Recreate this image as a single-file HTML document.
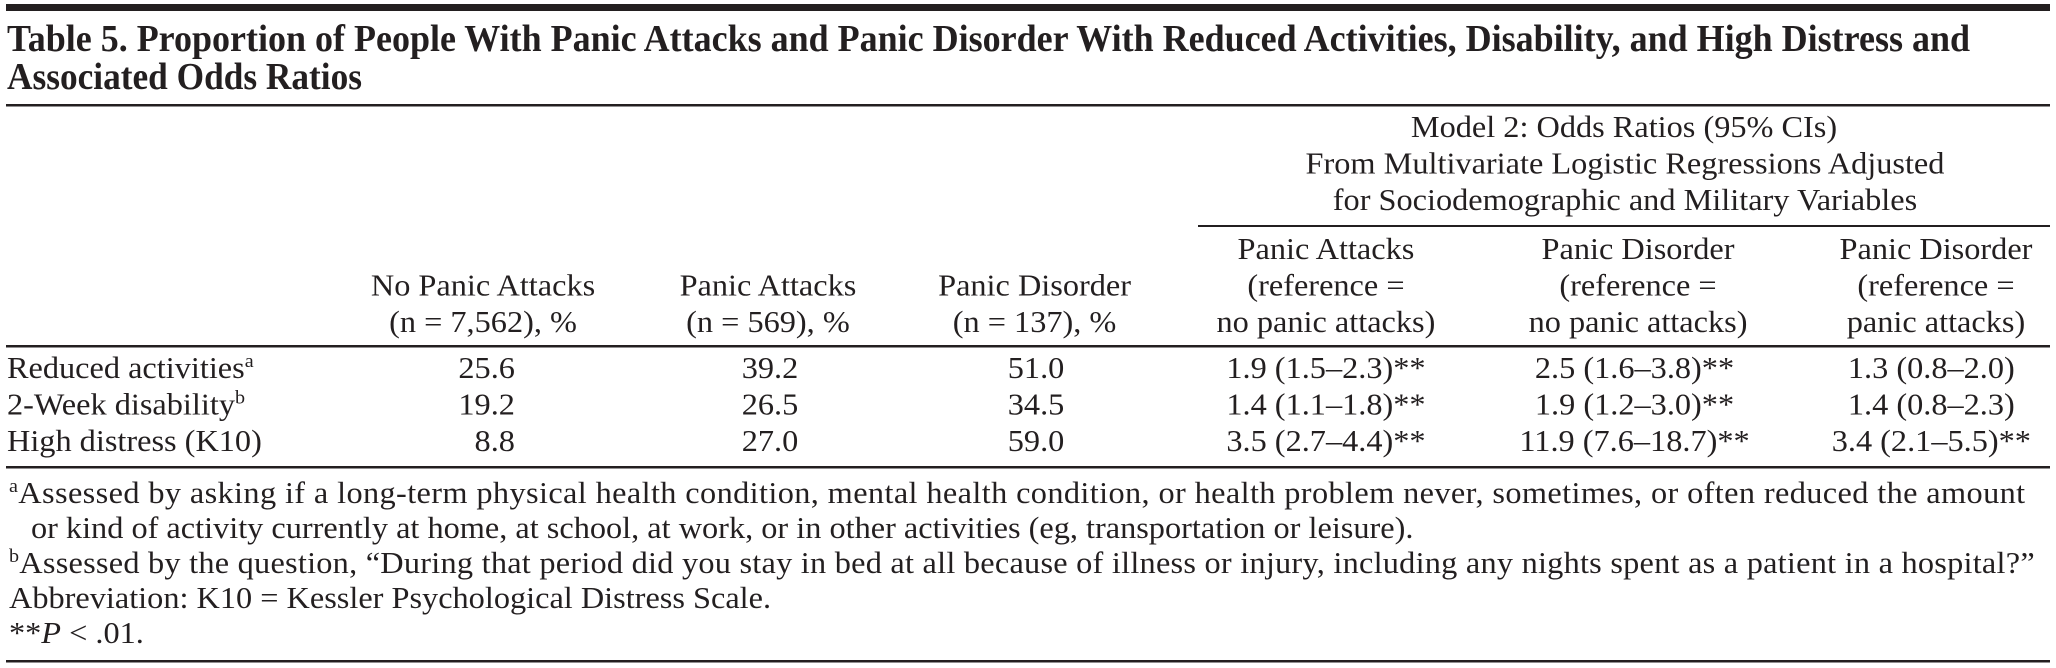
<!DOCTYPE html>
<html>
<head>
<meta charset="utf-8">
<style>
  html, body { margin: 0; padding: 0; background: #ffffff; }
  body { width: 2056px; height: 668px; overflow: hidden; }
  svg { display: block; }
  text { font-family: "Liberation Serif", "DejaVu Serif", serif; fill: #231f20; }
</style>
</head>
<body>
<svg width="2056" height="668" viewBox="0 0 2056 668" xmlns="http://www.w3.org/2000/svg">
  <rect x="0" y="0" width="2056" height="668" fill="#ffffff"/>

  <!-- rules -->
  <rect x="6" y="4" width="2044" height="7" fill="#231f20"/>
  <rect x="6" y="104" width="2044" height="2.5" fill="#231f20"/>
  <rect x="1198" y="225" width="852" height="2" fill="#231f20"/>
  <rect x="6" y="345" width="2044" height="2.5" fill="#231f20"/>
  <rect x="6" y="466" width="2044" height="2.5" fill="#231f20"/>
  <rect x="6" y="660" width="2044" height="2.5" fill="#231f20"/>

  <!-- title -->
  <text x="7" y="51" font-size="38" font-weight="bold" textLength="1963" lengthAdjust="spacingAndGlyphs">Table 5. Proportion of People With Panic Attacks and Panic Disorder With Reduced Activities, Disability, and High Distress and</text>
  <text x="7" y="89" font-size="38" font-weight="bold" textLength="355" lengthAdjust="spacingAndGlyphs">Associated Odds Ratios</text>

  <g transform="scale(1.06,1)" font-size="30.5">
    <!-- spanning header -->
    <text x="1532.1" y="137" text-anchor="middle">Model 2: Odds Ratios (95% CIs)</text>
    <text x="1533" y="173.5" text-anchor="middle">From Multivariate Logistic Regressions Adjusted</text>
    <text x="1533" y="210" text-anchor="middle">for Sociodemographic and Military Variables</text>

    <!-- col 4 header -->
    <text x="1250.9" y="259" text-anchor="middle">Panic Attacks</text>
    <text x="1250.9" y="295.5" text-anchor="middle">(reference =</text>
    <text x="1250.9" y="332" text-anchor="middle">no panic attacks)</text>
    <!-- col 5 header -->
    <text x="1545.3" y="259" text-anchor="middle">Panic Disorder</text>
    <text x="1545.3" y="295.5" text-anchor="middle">(reference =</text>
    <text x="1545.3" y="332" text-anchor="middle">no panic attacks)</text>
    <!-- col 6 header -->
    <text x="1826.4" y="259" text-anchor="middle">Panic Disorder</text>
    <text x="1826.4" y="295.5" text-anchor="middle">(reference =</text>
    <text x="1826.4" y="332" text-anchor="middle">panic attacks)</text>

    <!-- left headers -->
    <text x="455.7" y="295.5" text-anchor="middle">No Panic Attacks</text>
    <text x="455.7" y="332" text-anchor="middle">(n = 7,562), %</text>
    <text x="724.5" y="295.5" text-anchor="middle">Panic Attacks</text>
    <text x="724.5" y="332" text-anchor="middle">(n = 569), %</text>
    <text x="976" y="295.5" text-anchor="middle">Panic Disorder</text>
    <text x="976" y="332" text-anchor="middle">(n = 137), %</text>

    <!-- row labels -->
    <text x="6.6" y="378">Reduced activities<tspan dy="-11" font-size="19">a</tspan></text>
    <text x="6.6" y="414.5">2-Week disability<tspan dy="-11" font-size="19">b</tspan></text>
    <text x="6.6" y="451">High distress (K10)</text>

    <!-- col 1 -->
    <text x="485.8" y="378" text-anchor="end">25.6</text>
    <text x="485.8" y="414.5" text-anchor="end">19.2</text>
    <text x="485.8" y="451" text-anchor="end">8.8</text>
    <!-- col 2 -->
    <text x="726.4" y="378" text-anchor="middle">39.2</text>
    <text x="726.4" y="414.5" text-anchor="middle">26.5</text>
    <text x="726.4" y="451" text-anchor="middle">27.0</text>
    <!-- col 3 -->
    <text x="977.4" y="378" text-anchor="middle">51.0</text>
    <text x="977.4" y="414.5" text-anchor="middle">34.5</text>
    <text x="977.4" y="451" text-anchor="middle">59.0</text>
    <!-- col 4 -->
    <text x="1250.9" y="378" text-anchor="middle">1.9 (1.5–2.3)**</text>
    <text x="1250.9" y="414.5" text-anchor="middle">1.4 (1.1–1.8)**</text>
    <text x="1250.9" y="451" text-anchor="middle">3.5 (2.7–4.4)**</text>
    <!-- col 5 -->
    <text x="1542" y="378" text-anchor="middle">2.5 (1.6–3.8)**</text>
    <text x="1542" y="414.5" text-anchor="middle">1.9 (1.2–3.0)**</text>
    <text x="1542" y="451" text-anchor="middle">11.9 (7.6–18.7)**</text>
    <!-- col 6 -->
    <text x="1822" y="378" text-anchor="middle">1.3 (0.8–2.0)</text>
    <text x="1822" y="414.5" text-anchor="middle">1.4 (0.8–2.3)</text>
    <text x="1822" y="451" text-anchor="middle">3.4 (2.1–5.5)**</text>

    <!-- footnotes -->
    <text x="8.5" y="503" textLength="1902" lengthAdjust="spacing"><tspan font-size="19" dy="-11">a</tspan><tspan dy="11">Assessed by asking if a long-term physical health condition, mental health condition, or health problem never, sometimes, or often reduced the amount</tspan></text>
    <text x="29.2" y="538">or kind of activity currently at home, at school, at work, or in other activities (eg, transportation or leisure).</text>
    <text x="8.5" y="573" textLength="1911" lengthAdjust="spacing"><tspan font-size="19" dy="-11">b</tspan><tspan dy="11">Assessed by the question, “During that period did you stay in bed at all because of illness or injury, including any nights spent as a patient in a hospital?”</tspan></text>
    <text x="8.5" y="608">Abbreviation: K10 = Kessler Psychological Distress Scale.</text>
    <text x="8.5" y="643">**<tspan font-style="italic">P</tspan> &lt; .01.</text>
  </g>
</svg>
</body>
</html>
